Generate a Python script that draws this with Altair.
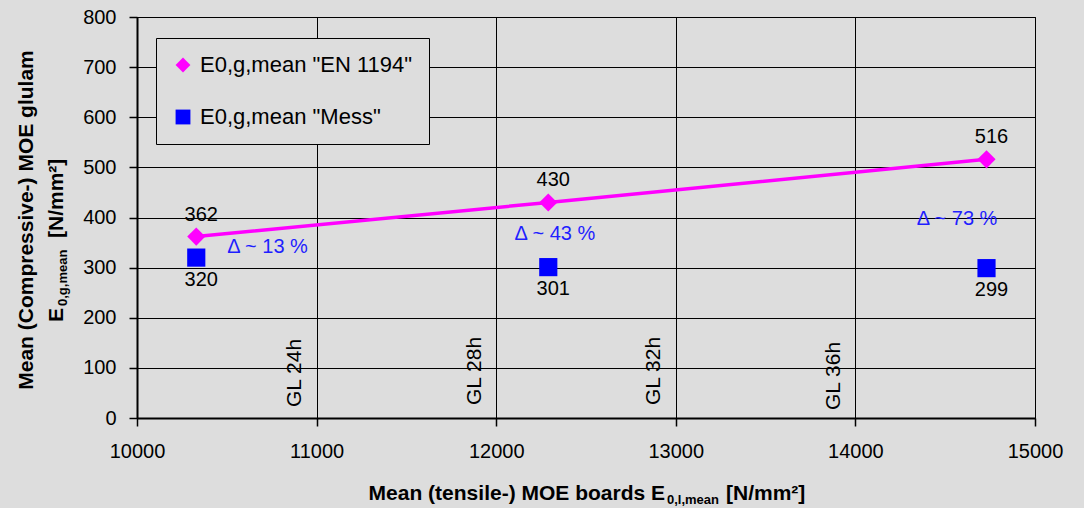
import altair as alt
import pandas as pd

# Mean tensile MOE of the boards for the three glulam series
board_moe = [10330, 12290, 14730]
# Mean compressive MOE of the glulam: calculated after EN 1194 and measured
e_en1194 = [362, 430, 516]
e_mess = [320, 301, 299]
series_names = ['E0,g,mean "EN 1194"', 'E0,g,mean "Mess"']

# Difference annotations between calculated and measured values
delta_text = ["Δ ~ 13 %", "Δ ~ 43 %", "Δ ~ 73 %"]
delta_x = [10727, 12327, 14566]
delta_y = [342, 367, 397]

# Glulam strength classes marked along the board MOE axis
grade_text = ["GL 24h", "GL 28h", "GL 32h", "GL 36h"]
grade_x = [10880, 11880, 12880, 13880]
grade_y = [22, 26, 26, 16]

x_ticks = [10000, 11000, 12000, 13000, 14000, 15000]
y_ticks = [0, 100, 200, 300, 400, 500, 600, 700, 800]

FONT = "Liberation Sans"
MAGENTA = "#FF00FF"
BLUE = "#0000FF"
BG = "#DDDDDD"

points = pd.DataFrame(
    {
        "x": board_moe + board_moe,
        "y": e_en1194 + e_mess,
        "series": [series_names[0]] * len(board_moe) + [series_names[1]] * len(board_moe),
    }
)
en_df = points[points["series"] == series_names[0]]
mess_df = points[points["series"] == series_names[1]]
delta_df = pd.DataFrame({"x": delta_x, "y": delta_y, "t": delta_text})
grade_df = pd.DataFrame({"x": grade_x, "y": grade_y, "t": grade_text})

x_enc = alt.X(
    "x:Q",
    scale=alt.Scale(domain=[10000, 15000], nice=False, zero=False),
    axis=alt.Axis(values=x_ticks, format="d", title="", labelPadding=15, labelFlush=False),
)
y_enc = alt.Y(
    "y:Q",
    scale=alt.Scale(domain=[0, 800], nice=False),
    axis=alt.Axis(values=y_ticks, format="d", title="", labelPadding=13, labelFlush=False),
)

legend = alt.Legend(
    title=None,
    orient="none",
    legendX=19,
    legendY=21,
    direction="vertical",
    fillColor=BG,
    strokeColor="black",
    padding=16,
    rowPadding=30,
    labelFont=FONT,
    labelFontSize=22,
    labelColor="black",
    labelOffset=6,
    labelLimit=400,
    symbolSize=220,
    symbolStrokeWidth=0,
    symbolOpacity=1,
)

line = alt.Chart(en_df).mark_line(color=MAGENTA, strokeWidth=3.5).encode(x=x_enc, y=y_enc)

marks = alt.Chart(points).mark_point(filled=True, opacity=1, size=330).encode(
    x=x_enc,
    y=y_enc,
    color=alt.Color("series:N", scale=alt.Scale(domain=series_names, range=[MAGENTA, BLUE]), legend=legend),
    shape=alt.Shape("series:N", scale=alt.Scale(domain=series_names, range=["diamond", "square"]), legend=legend),
)

above = alt.Chart(en_df).mark_text(
    font=FONT, fontSize=20, color="black", dy=-22, dx=5, baseline="middle"
).encode(x=x_enc, y=y_enc, text=alt.Text("y:Q", format="d"))

below = alt.Chart(mess_df).mark_text(
    font=FONT, fontSize=20, color="black", dy=22, dx=5, baseline="middle"
).encode(x=x_enc, y=y_enc, text=alt.Text("y:Q", format="d"))

deltas = alt.Chart(delta_df).mark_text(
    font=FONT, fontSize=20, color="#1F1FFF", baseline="middle", align="center"
).encode(x=x_enc, y=y_enc, text="t:N")

grades = alt.Chart(grade_df).mark_text(
    font=FONT, fontSize=21, color="black", angle=270, align="left", baseline="middle"
).encode(x=x_enc, y=y_enc, text="t:N")


def title_part(text, x, y, size, align="left", angle=0):
    return alt.Chart(pd.DataFrame({"t": [text]})).mark_text(
        text=text,
        font=FONT,
        fontSize=size,
        fontWeight="bold",
        color="black",
        align=align,
        baseline="alphabetic",
        angle=angle,
    ).encode(x=alt.value(x), y=alt.value(y))


# x-axis title with subscript
x_title = [
    title_part("Mean (tensile-) MOE boards E", 528, 483, 21, align="right"),
    title_part("0,l,mean", 530, 487, 13),
    title_part("[N/mm²]", 589, 483, 21),
]
# two-line y-axis title with subscript, reading bottom to top
y_title = [
    title_part("Mean (Compressive-) MOE glulam", -104, 203, 21, align="center", angle=270),
    title_part("E", -74, 305, 21, angle=270),
    title_part("0,g,mean", -70, 289, 13, angle=270),
    title_part("[N/mm²]", -74, 221, 21, angle=270),
]

chart = (
    alt.layer(line, marks, above, below, deltas, grades, *x_title, *y_title)
    .properties(
        width=898,
        height=401,
        background=BG,
        padding={"left": 137, "top": 17, "right": 49, "bottom": 90},
        autosize=alt.AutoSizeParams(type="none"),
    )
    .configure_view(stroke="black", strokeWidth=1, fill=BG)
    .configure_axis(
        grid=True,
        gridColor="black",
        gridWidth=1,
        gridOpacity=1,
        domainColor="black",
        domainWidth=2,
        tickColor="black",
        tickSize=8,
        tickWidth=1.5,
        labelFont=FONT,
        labelFontSize=20,
        labelColor="black",
    )
)

chart.save("out.html", embed_options={"renderer": "svg", "actions": False})
